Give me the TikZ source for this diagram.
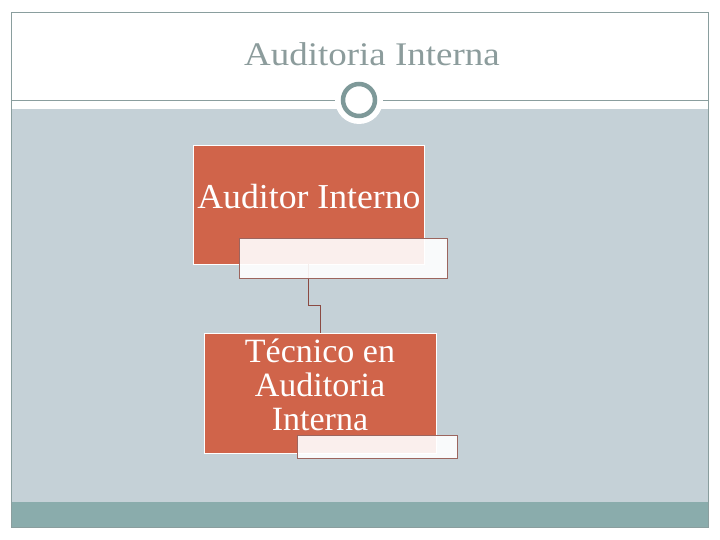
\documentclass[tikz,border=0pt]{standalone}
\usepackage{fontspec}
\setmainfont{Liberation Serif}
\newfontfamily\ttlfont[FakeStretch=1.12]{Liberation Serif}
\newfontfamily\boxfont[FakeStretch=1.02]{Liberation Serif}
\definecolor{bgblue}{HTML}{C5D1D7}
\definecolor{teal}{HTML}{8AACAC}
\definecolor{orng}{HTML}{D0644A}
\definecolor{frame}{HTML}{8A9E9E}
\definecolor{circ}{HTML}{7E9999}
\definecolor{ttl}{HTML}{8C9C9C}
\definecolor{conn}{HTML}{8B4A42}
\tikzset{
  mainbox/.style={draw=white, line width=0.8pt, fill=orng, inner sep=0pt},
  boxtext/.style={text=white, align=center},
  subbox/.style={draw=conn!85, line width=0.7pt, fill=white, fill opacity=0.9, inner sep=0pt},
  link/.style={draw=conn, line width=0.8pt}
}
\begin{document}
\begin{tikzpicture}[x=1pt,y=-1pt]
\useasboundingbox (0,0) rectangle (720,540);
\fill[white] (0,0) rectangle (720,540);
% background regions
\fill[bgblue] (11,109) rectangle (708,502);
\fill[teal] (11,502) rectangle (708,527);
\draw[frame, line width=0.8pt] (11,12) rectangle (708,527);
% header line with circle
\draw[frame, line width=0.8pt] (11,100) -- (335,100);
\draw[frame, line width=0.8pt] (383,100) -- (708,100);
\fill[white] (359,100) circle (24);
\draw[circ, line width=4.5pt, fill=white] (359,100) circle (16);
\node[text=ttl, font=\ttlfont\fontsize{33}{33}\selectfont] (title) at (372,54) {Auditoria Interna};
% connector
\coordinate (c1) at (308,264);
\coordinate (c2) at (308,305);
\coordinate (c3) at (320,305);
\coordinate (c4) at (320,333);
% boxes
\node[mainbox, minimum width=231pt, minimum height=119pt, anchor=north west] (b1) at (193,145) {};
\node[boxtext, font=\boxfont\fontsize{35}{34}\selectfont] (t1) at (309,197) {Auditor Interno};
\draw[link] (c1) -- (c2) -- (c3) -- (c4);
\node[subbox, minimum width=208pt, minimum height=40pt, anchor=north west] (s1) at (239,238) {};
\node[mainbox, minimum width=232pt, minimum height=120pt, anchor=north west] (b2) at (204,333) {};
\node[boxtext, font=\fontsize{34}{34}\selectfont] (t2) at (320,385) {Técnico en\\Auditoria\\Interna};
\node[subbox, minimum width=160pt, minimum height=23pt, anchor=north west] (s2) at (297,435) {};
\end{tikzpicture}
\end{document}
